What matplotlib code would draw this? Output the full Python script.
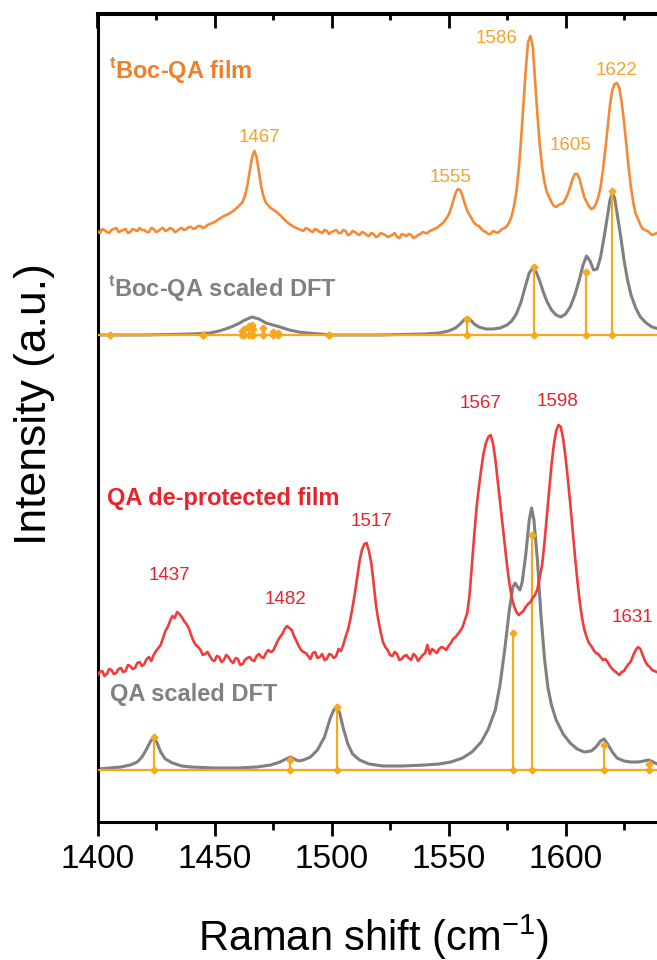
import matplotlib
matplotlib.use("Agg")
import matplotlib.pyplot as plt
from matplotlib.ticker import MultipleLocator
import numpy as np

plt.rcParams['font.family'] = ['Liberation Sans', 'DejaVu Sans']
plt.rcParams['mathtext.fontset'] = 'custom'
plt.rcParams['mathtext.rm'] = 'Liberation Sans'
plt.rcParams['mathtext.bf'] = 'Liberation Sans:bold'

# ---- tBoc-QA film (intensity relative to its own baseline, a.u.)
boc_film = [
    (1400, 1), (1401, -1), (1402, 3), (1403, 2), (1404, 0), (1405, -1), (1406, 2), (1407, 3),
    (1408, 4), (1409, 0), (1410, 1), (1411, 2), (1412, 3), (1413, -1), (1414, 0), (1415, 3),
    (1416, 2), (1417, 1), (1418, 4), (1419, 2), (1420, 2), (1421, 0), (1422, 0), (1423, 4),
    (1424, 3), (1425, 0), (1426, 1), (1427, 3), (1428, 4), (1429, 1), (1430, 2), (1431, 4),
    (1432, 3), (1433, 0), (1434, 1), (1435, 3), (1436, 4), (1437, 2), (1438, 3), (1439, 5),
    (1440, 5), (1441, 3), (1442, 4), (1443, 6), (1444, 6), (1445, 4), (1446, 5), (1447, 7),
    (1448, 8), (1450, 10), (1452, 13), (1454, 16), (1456, 18), (1458, 21), (1460, 25),
    (1462, 30), (1463, 36), (1464, 46), (1465, 60), (1466, 74), (1467, 81), (1468, 75),
    (1469, 60), (1470, 45), (1471, 35), (1472, 29), (1474, 24), (1476, 21), (1478, 17),
    (1480, 12), (1482, 8), (1484, 5), (1486, 3), (1488, 1), (1489, 4), (1490, 3), (1491, 1),
    (1492, 0), (1493, 3), (1494, 2), (1495, 0), (1496, -1), (1497, 2), (1498, 1), (1499, -2),
    (1500, 0), (1501, 1), (1502, 2), (1503, -1), (1504, -1), (1505, 2), (1506, 1), (1507, -3),
    (1508, -2), (1509, 1), (1510, 0), (1511, -2), (1512, -3), (1513, 0), (1514, -1),
    (1515, -3), (1516, -4), (1517, -1), (1518, -2), (1519, -5), (1520, -4), (1521, -1),
    (1522, -2), (1523, -3), (1524, -5), (1525, -4), (1526, -3), (1527, -1), (1528, -5),
    (1529, -6), (1530, -2), (1531, -3), (1532, -4), (1533, -2), (1534, -3), (1535, -6),
    (1536, -5), (1537, -3), (1538, -2), (1539, 0), (1540, -1), (1541, -1), (1542, 1),
    (1543, 2), (1544, 3), (1545, 4), (1546, 6), (1548, 10), (1550, 17), (1551, 23),
    (1552, 31), (1553, 39), (1554, 43), (1555, 42), (1556, 36), (1557, 28), (1558, 21),
    (1559, 17), (1560, 13), (1561, 9), (1562, 7), (1563, 6), (1564, 3), (1565, 1), (1566, 0),
    (1567, -2), (1568, -2), (1569, 1), (1570, 0), (1571, -1), (1572, 1), (1573, 3), (1574, 4),
    (1575, 6), (1576, 10), (1577, 16), (1578, 26), (1579, 40), (1580, 62), (1581, 92),
    (1582, 127), (1583, 162), (1584, 190), (1585, 196), (1586, 186), (1587, 152), (1588, 117),
    (1589, 87), (1590, 65), (1591, 50), (1592, 40), (1593, 35), (1594, 30), (1595, 26),
    (1596, 25), (1597, 27), (1598, 28), (1599, 29), (1600, 33), (1601, 38), (1602, 45),
    (1603, 53), (1604, 58), (1605, 58), (1606, 53), (1607, 44), (1608, 35), (1609, 30),
    (1610, 26), (1611, 23), (1612, 24), (1613, 28), (1614, 35), (1615, 45), (1616, 62),
    (1617, 82), (1618, 104), (1619, 127), (1620, 142), (1621, 148), (1622, 149), (1623, 144),
    (1624, 130), (1625, 110), (1626, 87), (1627, 64), (1628, 44), (1629, 29), (1630, 18),
    (1631, 13), (1632, 7), (1633, 3), (1634, 2), (1635, 1), (1636, -1), (1637, -3),
    (1638, -2), (1639, -1), (1640, -3),
]

# ---- tBoc-QA scaled DFT (broadened curve + sticks)
boc_dft = [
    (1400, 0), (1420, 0), (1440, 1), (1448, 2), (1452, 4), (1456, 7), (1460, 11), (1463, 15),
    (1466, 18), (1469, 16), (1472, 12), (1475, 10), (1478, 8), (1482, 5), (1486, 3), (1490, 2),
    (1495, 1), (1500, 0), (1520, 0), (1540, 1), (1546, 2), (1550, 4), (1553, 7), (1555, 11),
    (1557, 16), (1558, 17), (1559, 16), (1561, 11), (1563, 8), (1566, 6), (1569, 6), (1572, 7),
    (1575, 10), (1577, 14), (1579, 21), (1581, 33), (1583, 50), (1584.5, 62), (1586, 67),
    (1587.5, 63), (1589, 54), (1590.5, 43), (1592, 34), (1594, 25), (1596, 20), (1598, 18),
    (1600, 21), (1602, 28), (1604, 40), (1606, 56), (1607.5, 70), (1609, 79), (1610.5, 74),
    (1612, 65), (1613.5, 66), (1615, 78), (1616.5, 98), (1618, 120), (1619, 135), (1620, 142),
    (1621, 137), (1622, 122), (1623.5, 100), (1625, 75), (1626.5, 55), (1628, 40), (1630, 27),
    (1632, 18), (1634.5, 12), (1637, 8), (1640, 6),
]
boc_stick_pos = [1405.4, 1445.2, 1461.6, 1462.6, 1464.9, 1465.9, 1466.6, 1470.9, 1474.9,
                 1477.3, 1499.0, 1558.0, 1586.5, 1608.6, 1619.7]
boc_stick_int = [0.5, 0.5, 4, 6, 9, 10, 6, 7, 3, 2, 0.5, 16, 68, 63, 144]

# ---- QA de-protected film
qa_film = [
    (1400, -10), (1401, -7), (1402, -6), (1403, -11), (1404, -9), (1405, -4), (1406, -5),
    (1407, -9), (1408, -8), (1409, -4), (1410, -3), (1411, -7), (1412, -6), (1413, 0),
    (1414, -1), (1415, -4), (1416, -3), (1417, 2), (1418, 3), (1419, -1), (1420, 1), (1421, 6),
    (1422, 8), (1423, 4), (1424, 10), (1425, 14), (1426, 17), (1427, 20), (1428, 27),
    (1429, 34), (1430, 38), (1431, 44), (1432, 49), (1433, 47), (1434, 53), (1435, 51),
    (1436, 48), (1437, 44), (1438, 41), (1439, 37), (1440, 30), (1441, 24), (1442, 20),
    (1443, 18), (1444, 15), (1445, 10), (1446, 11), (1447, 13), (1448, 9), (1449, 5),
    (1450, 4), (1451, 9), (1452, 8), (1453, 3), (1454, 5), (1455, 10), (1456, 8), (1457, 4),
    (1458, 2), (1459, 7), (1460, 6), (1461, 0), (1462, 1), (1463, 5), (1464, 7), (1465, 8),
    (1466, 5), (1467, 4), (1468, 9), (1469, 11), (1470, 8), (1471, 7), (1472, 12), (1473, 15),
    (1474, 13), (1475, 14), (1476, 19), (1477, 24), (1478, 28), (1479, 31), (1480, 36),
    (1481, 39), (1482, 37), (1483, 35), (1484, 29), (1485, 24), (1486, 19), (1487, 15),
    (1488, 13), (1489, 12), (1490, 9), (1491, 6), (1492, 12), (1493, 13), (1494, 7), (1495, 8),
    (1496, 11), (1497, 5), (1498, 6), (1499, 11), (1500, 10), (1501, 7), (1502, 9), (1503, 16),
    (1504, 14), (1505, 20), (1506, 28), (1507, 35), (1508, 45), (1509, 58), (1510, 72),
    (1511, 88), (1512, 104), (1513, 115), (1514, 121), (1515, 122), (1516, 114), (1517, 102),
    (1518, 82), (1519, 60), (1520, 45), (1521, 33), (1522, 23), (1523, 18), (1524, 15),
    (1525, 10), (1526, 9), (1527, 13), (1528, 11), (1529, 5), (1530, 6), (1531, 9), (1532, 10),
    (1533, 7), (1534, 5), (1535, 11), (1536, 9), (1537, 4), (1538, 7), (1539, 10), (1540, 12),
    (1541, 20), (1542, 11), (1543, 16), (1544, 14), (1545, 12), (1546, 16), (1547, 18),
    (1548, 17), (1549, 15), (1550, 19), (1551, 22), (1552, 26), (1553, 28), (1554, 31),
    (1555, 34), (1556, 38), (1557, 45), (1558, 52), (1559, 70), (1560, 100), (1561, 130),
    (1562, 158), (1563, 178), (1564, 196), (1565, 212), (1566, 222), (1567, 228), (1568, 230),
    (1569, 222), (1570, 206), (1571, 185), (1572, 163), (1573, 143), (1574, 122), (1575, 100),
    (1576, 82), (1577, 68), (1578, 59), (1579, 53), (1580, 50), (1581, 52), (1582, 54),
    (1583, 58), (1584, 61), (1585, 63), (1586, 67), (1587, 70), (1588, 76), (1589, 88),
    (1590, 100), (1591, 122), (1592, 148), (1593, 175), (1594, 200), (1595, 220), (1596, 234),
    (1597, 240), (1598, 238), (1599, 226), (1600, 208), (1601, 186), (1602, 162), (1603, 136),
    (1604, 110), (1605, 86), (1606, 65), (1607, 48), (1608, 36), (1609, 28), (1610, 22),
    (1611, 19), (1612, 15), (1613, 12), (1614, 11), (1615, 8), (1616, 5), (1617, 6), (1618, 3),
    (1619, -1), (1620, -4), (1621, -6), (1622, -8), (1623, -10), (1624, -7), (1625, -6),
    (1626, -2), (1627, 1), (1628, 4), (1629, 10), (1630, 15), (1631, 18), (1632, 16),
    (1633, 10), (1634, 4), (1635, 0), (1636, -2), (1637, -5), (1638, -6), (1639, -7),
    (1640, -8),
]

# ---- QA scaled DFT
qa_dft = [
    (1400, 1), (1405, 2), (1410, 3), (1414, 5), (1417, 8), (1419, 13), (1421, 21),
    (1422.5, 28), (1424, 33), (1425.5, 27), (1427, 18), (1429, 11), (1432, 7), (1436, 4),
    (1440, 3), (1450, 2), (1460, 2), (1468, 3), (1474, 5), (1478, 8), (1480.5, 11),
    (1482.5, 13), (1484, 11), (1486, 9), (1488, 10), (1491, 13), (1494, 20), (1497, 33),
    (1499.5, 52), (1501, 60), (1502.2, 63), (1503.5, 57), (1505, 42), (1507, 26), (1509, 16),
    (1512, 10), (1516, 6), (1522, 4), (1530, 4), (1540, 5), (1546, 6), (1551, 8), (1556, 12),
    (1560, 18), (1564, 28), (1567, 41), (1570, 60), (1572, 85), (1574, 120), (1576, 160),
    (1577.5, 183), (1578.5, 187), (1579.5, 183), (1580.5, 180), (1581.5, 188), (1583, 215),
    (1584.5, 250), (1585.5, 262), (1586.5, 250), (1588, 210), (1589.5, 155), (1591, 112),
    (1592.5, 82), (1594, 65), (1596, 50), (1599, 36), (1602, 27), (1605, 21), (1608, 18),
    (1611, 19), (1613, 23), (1615, 29), (1616.5, 31), (1618, 26), (1620, 18), (1622, 12),
    (1625, 9), (1628, 8), (1631, 8), (1633.5, 9), (1635.5, 10), (1637.5, 8), (1640, 5),
]
qa_stick_pos = [1424.0, 1482.3, 1502.2, 1577.4, 1585.5, 1616.5, 1635.5]
qa_stick_int = [33, 10, 63, 137, 235, 25, 6]

# peak labels: value, (x, y) of label centre
boc_peaks = [1467, 1555, 1586, 1605, 1622]
boc_peak_xy = [(1469.4, 685), (1551, 645), (1570.4, 784), (1602.1, 677), (1622, 752)]
qa_peaks = [1437, 1482, 1517, 1567, 1598, 1631]
qa_peak_xy = [(1430.9, 247), (1480.5, 222), (1517, 300), (1563.9, 419), (1596.5, 421),
              (1628.8, 204)]

# vertical stacking offsets (a.u.)
OFF_BOC_FILM, OFF_BOC_DFT, OFF_QA_FILM, OFF_QA_DFT = 590, 487, 157, 52

ORANGE = '#F58A35'
ORANGE_TXT = '#F07F2A'
AMBER = '#F7A81B'
AMBER_TXT = '#F4A32E'
RED = '#F03C3C'
RED_TXT = '#E8232B'
GRAY = '#808080'

fig = plt.figure(figsize=(6.57, 9.6), dpi=100)
ax = fig.add_axes([97.5 / 657, 138 / 960, 559.5 / 657, 808.5 / 960])


def xy(pairs, off):
    a = np.array(sorted(pairs), dtype=float)
    return a[:, 0], a[:, 1] + off


def sticks(pos, val, off):
    pos = np.asarray(pos); top = np.asarray(val) + off
    ax.axhline(off, color=AMBER, lw=1.6, zorder=3)
    ax.vlines(pos, off, top, color=AMBER, lw=1.6, zorder=3)
    ax.plot(pos, top, 'D', color=AMBER, ms=3.5, zorder=3)
    ax.plot(pos, np.full_like(pos, off, dtype=float), 'D', color=AMBER, ms=3.5, zorder=3)


x, y = xy(boc_dft, OFF_BOC_DFT); ax.plot(x, y, color=GRAY, lw=2.2, zorder=2)
x, y = xy(qa_dft, OFF_QA_DFT); ax.plot(x, y, color=GRAY, lw=2.2, zorder=2)
sticks(boc_stick_pos, boc_stick_int, OFF_BOC_DFT)
sticks(qa_stick_pos, qa_stick_int, OFF_QA_DFT)
x, y = xy(boc_film, OFF_BOC_FILM); ax.plot(x, y, color=ORANGE, lw=1.9, zorder=4)
x, y = xy(qa_film, OFF_QA_FILM); ax.plot(x, y, color=RED, lw=1.9, zorder=4)

for p, (tx, ty) in zip(boc_peaks, boc_peak_xy):
    ax.text(tx, ty, str(p), color=AMBER_TXT, fontsize=13.5, ha='center', va='center')
for p, (tx, ty) in zip(qa_peaks, qa_peak_xy):
    ax.text(tx, ty, str(p), color=RED_TXT, fontsize=13.5, ha='center', va='center')

ax.text(1404.9, 752, r'$^{\mathbf{t}}$Boc-QA film', color=ORANGE_TXT, fontsize=17,
        fontweight='bold', ha='left', va='center')
ax.text(1404.5, 534, r'$^{\mathbf{t}}$Boc-QA scaled DFT', color=GRAY, fontsize=17,
        fontweight='bold', ha='left', va='center')
ax.text(1404.0, 324, 'QA de-protected film', color=RED_TXT, fontsize=17,
        fontweight='bold', ha='left', va='center')
ax.text(1405.3, 127, 'QA scaled DFT', color=GRAY, fontsize=17,
        fontweight='bold', ha='left', va='center')

ax.set_xlim(1400, 1639.1)
ax.set_ylim(0, 808.5)
ax.set_yticks([])
ax.xaxis.set_major_locator(MultipleLocator(50))
ax.xaxis.set_minor_locator(MultipleLocator(25))
ax.tick_params(axis='x', which='major', direction='out', length=10, width=2,
               labelsize=24, pad=6)
ax.tick_params(axis='x', which='minor', direction='out', length=5.5, width=2)
for s in ('left', 'bottom', 'top'):
    ax.spines[s].set_linewidth(2.2)
ax.spines['right'].set_visible(False)

sec = ax.secondary_xaxis('top')
sec.xaxis.set_major_locator(MultipleLocator(50))
sec.xaxis.set_minor_locator(MultipleLocator(25))
sec.tick_params(axis='x', which='major', direction='in', length=10.5, width=2, labeltop=False)
sec.tick_params(axis='x', which='minor', direction='in', length=5, width=2)
sec.spines['top'].set_linewidth(2.2)

ax.set_xlabel('Raman shift (cm$^{-1}$)', fontsize=30, va='center')
ax.xaxis.set_label_coords(0.494, -0.142)
ax.set_ylabel('Intensity (a.u.)', fontsize=32, va='center')
ax.yaxis.set_label_coords(-0.113, 0.517)

fig.savefig('out.png', dpi=100)
